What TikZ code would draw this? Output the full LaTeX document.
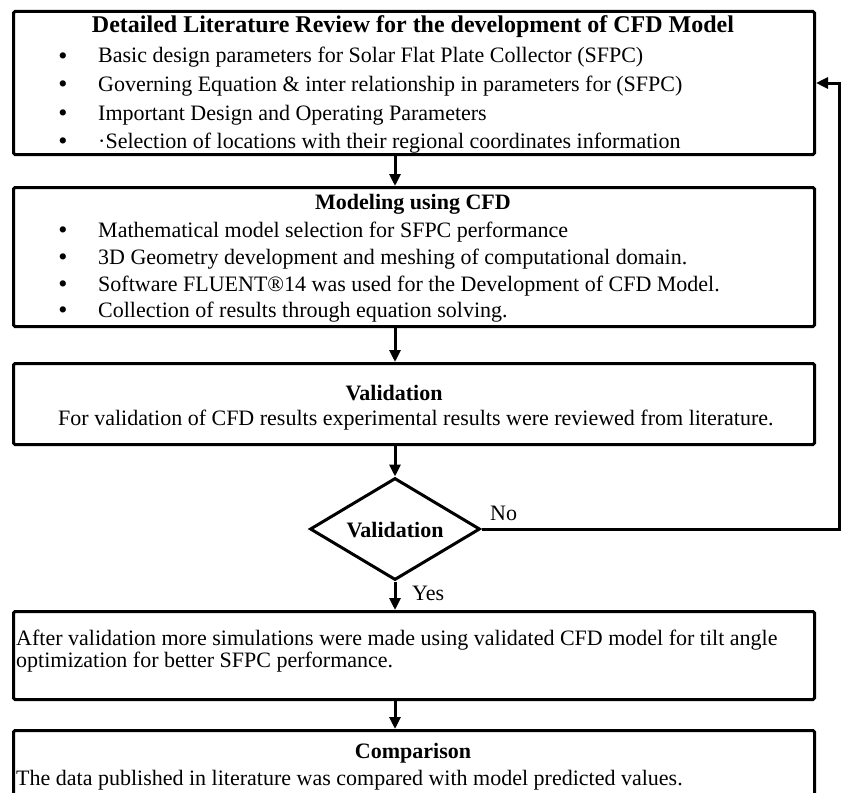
\documentclass[tikz,border=0pt]{standalone}
\usepackage{fontspec}
\setmainfont{Liberation Serif}
\usetikzlibrary{shapes.geometric,arrows.meta}
\tikzset{
  box/.style={draw, line width=3pt, rounded corners=1.5pt, anchor=north west, inner sep=0pt},
  txt/.style={anchor=base west, inner sep=0pt, font=\fontsize{22}{22}\selectfont},
  ttl/.style={anchor=base, inner sep=0pt, font=\fontsize{22}{22}\selectfont\bfseries},
  bul/.style={anchor=base, inner sep=0pt, font=\fontsize{26}{26}\selectfont},
  arr/.style={line width=3pt, -{Triangle[length=12pt,width=11pt]}},
}
\begin{document}
\begin{tikzpicture}[x=1pt,y=-1pt]
\useasboundingbox (0,0) rectangle (842,792);
\node[box, minimum width=801pt, minimum height=143pt] (lit) at (12,10){};
\node[ttl, font=\fontsize{24}{24}\selectfont\bfseries] (littl) at (413,33){Detailed Literature Review for the development of CFD Model};
\node[bul] (lb1) at (63,64){•};
\node[txt] (lt1) at (98,63){Basic design parameters for Solar Flat Plate Collector (SFPC)};
\node[bul] (lb2) at (63,92){•};
\node[txt] (lt2) at (98,91){Governing Equation \& inter relationship in parameters for (SFPC)};
\node[bul] (lb3) at (63,121){•};
\node[txt] (lt3) at (98,120){Important Design and Operating Parameters};
\node[bul] (lb4) at (63,149){•};
\node[txt] (lt4) at (98,148){·Selection of locations with their regional coordinates information};
\node[box, minimum width=801pt, minimum height=139pt] (cfd) at (12,186){};
\node[ttl] (cfdtl) at (413,209){Modeling using CFD};
\node[bul] (cb1) at (63,238){•};
\node[txt] (ct1) at (98,237){Mathematical model selection for SFPC performance};
\node[bul] (cb2) at (63,265){•};
\node[txt] (ct2) at (98,264){3D Geometry development and meshing of computational domain.};
\node[bul] (cb3) at (63,292){•};
\node[txt] (ct3) at (98,291){Software FLUENT®14 was used for the Development of CFD Model.};
\node[bul] (cb4) at (63,318){•};
\node[txt] (ct4) at (98,317){Collection of results through equation solving.};
\node[box, minimum width=801pt, minimum height=81pt] (val) at (12,362){};
\node[ttl] (valtl) at (394,400){Validation};
\node[txt] (vt1) at (58,425){For validation of CFD results experimental results were reviewed from literature.};
\node[draw, diamond, line width=3pt, minimum width=170pt, minimum height=102pt, inner sep=0pt] (dia) at (395,529){};
\node[ttl] (diatl) at (395,537){Validation};
\node[txt] (no) at (490,520){No};
\node[txt] (yes) at (412,600){Yes};
\node[box, minimum width=801pt, minimum height=88pt] (opt) at (12,610){};
\node[txt] (ot1) at (16,645){After validation more simulations were made using validated CFD model for tilt angle};
\node[txt] (ot2) at (16,667){optimization for better SFPC performance.};
\node[box, minimum width=801pt, minimum height=90pt] (cmp) at (12,729){};
\node[ttl] (cmptl) at (413,758){Comparison};
\node[txt] (mt1) at (16,785){The data published in literature was compared with model predicted values.};
\coordinate (fb) at (839,529);
\draw[arr] (lit.south -| dia) -- (cfd.north -| dia);
\draw[arr] (cfd.south -| dia) -- (val.north -| dia);
\draw[arr] (val.south -| dia) -- (dia.north);
\draw[arr] (dia.south) -- (opt.north -| dia);
\draw[arr] (opt.south -| dia) -- (cmp.north -| dia);
\draw[arr] (dia.east) -- (fb) |- (lit.east);
\end{tikzpicture}
\end{document}
